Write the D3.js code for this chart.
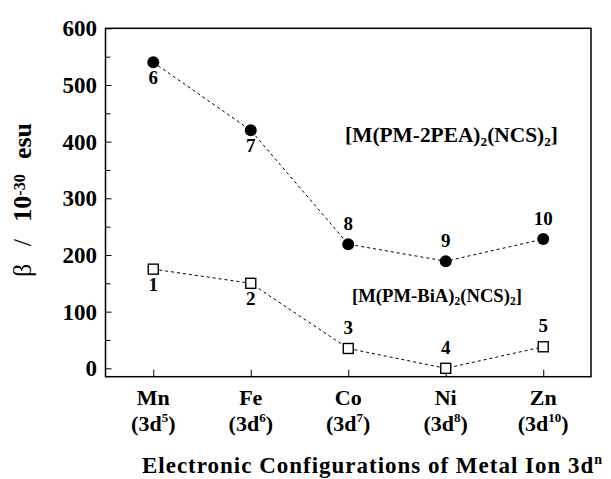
<!DOCTYPE html>
<html><head><meta charset="utf-8">
<script src="https://cdn.jsdelivr.net/npm/d3@7"></script>
<style>body{margin:0;background:#fff}text{font-family:"Liberation Serif","Times New Roman",Times,serif;font-weight:bold;fill:#000}</style>
</head><body><svg id="c" width="611" height="479"></svg>
<script>
const metals = ["Mn","Fe","Co","Ni","Zn"];
const configs = ["5","6","7","8","10"];
const pea = [540, 420, 219, 189, 228];
const bia = [175, 150, 35, 0, 38];
const peaLabels = ["6","7","8","9","10"];
const biaLabels = ["1","2","3","4","5"];
const peaPos = ["below","below","above","above","above"];
const biaPos = ["below","below","above","above","above"];
const yTicks = [0,100,200,300,400,500,600];
const yMinor = [50,150,250,350,450,550];

const svg = d3.select("#c");
const L=105.5, R=591, T=28.3, B=376.7;
const x = d3.scaleLinear().domain([-0.49,4.49]).range([L,R]);
const y = d3.scaleLinear().domain([-14.8,600]).range([B,T]);

function fit(t, w, base){
  const len = t.node().getComputedTextLength();
  t.attr("font-size", base * w / len);
}

svg.append("rect").attr("x",L).attr("y",T).attr("width",R-L).attr("height",B-T)
  .attr("fill","none").attr("stroke","#000").attr("stroke-width",1.5);

const gy = svg.append("g").attr("transform",`translate(${L},0)`).call(d3.axisRight(y).tickValues(yTicks).tickSize(6).tickFormat(""));
gy.select(".domain").remove();
gy.selectAll("line").attr("stroke","#000").attr("stroke-width",1);
const gym = svg.append("g").attr("transform",`translate(${L},0)`).call(d3.axisRight(y).tickValues(yMinor).tickSize(5).tickFormat(""));
gym.select(".domain").remove();
gym.selectAll("line").attr("stroke","#000").attr("stroke-width",1);
yTicks.forEach(v=>{
  svg.append("text").attr("x",97).attr("y",y(v)+8).attr("text-anchor","end")
    .attr("font-size",23).text(v);
});

const gx = svg.append("g").attr("transform",`translate(0,${B})`).call(d3.axisTop(x).tickValues([0,1,2,3,4]).tickSize(7).tickFormat(""));
gx.select(".domain").remove();
gx.selectAll("line").attr("stroke","#000").attr("stroke-width",1);
metals.forEach((m,i)=>{
  svg.append("text").attr("x",x(i)).attr("y",405).attr("text-anchor","middle").attr("font-size",22).text(m);
  const t = svg.append("text").attr("x",x(i)).attr("y",431).attr("text-anchor","middle").attr("font-size",22);
  t.append("tspan").text("(3d");
  t.append("tspan").attr("dy",-9).attr("font-size",13).text(configs[i]);
  t.append("tspan").attr("dy",9).text(")");
});

const xt = svg.append("text").attr("x",372).attr("y",473).attr("text-anchor","middle").attr("font-size",23)
  .attr("textLength",460).attr("lengthAdjust","spacing");
xt.append("tspan").text("Electronic  Configurations  of  Metal  Ion  3d");
xt.append("tspan").attr("dy",-9).attr("font-size",14).text("n");

const yt = svg.append("text").attr("transform","translate(31,200) rotate(-90)").attr("text-anchor","middle")
  .attr("font-size",26);
yt.append("tspan").attr("font-weight","normal").text("β");
const slash = yt.append("tspan").attr("font-weight","normal").text(" / ");
yt.append("tspan").text("10");
yt.append("tspan").attr("dy","-0.4em").attr("font-size","0.62em").text("-30");
const esu = yt.append("tspan").attr("dy","0.25em").text(" esu");
{
  const len = yt.node().getComputedTextLength();
  const extra = Math.max(0, 154 - len);
  slash.style("word-spacing", (extra * 0.36) + "px");
  esu.style("word-spacing", (extra * 0.28) + "px");
}

const line = d3.line().x((d,i)=>x(i)).y(d=>y(d));
[pea,bia].forEach(s=>svg.append("path").datum(s).attr("d",line).attr("fill","none").attr("stroke","#000").attr("stroke-width",1).attr("stroke-dasharray","3,3"));

svg.selectAll(".pc").data(pea).enter().append("circle").attr("cx",(d,i)=>x(i)).attr("cy",d=>y(d)).attr("r",6).attr("fill","#000");
svg.selectAll(".sq").data(bia).enter().append("rect").attr("x",(d,i)=>x(i)-5).attr("y",d=>y(d)-5)
  .attr("width",10).attr("height",10).attr("fill","#fff").attr("stroke","#000").attr("stroke-width",1.4);

function labels(vals, labs, pos){
  vals.forEach((v,i)=>{
    const cy = y(v) + (pos[i]==="below" ? 15 : -21);
    svg.append("text").attr("x",x(i)).attr("y",cy+6.5).attr("text-anchor","middle").attr("font-size",19).text(labs[i]);
  });
}
labels(pea, peaLabels, peaPos);
labels(bia, biaLabels, biaPos);

function formula(xc, yb, mid, w){
  const t = svg.append("text").attr("x",xc).attr("y",yb).attr("text-anchor","middle").attr("font-size",21);
  t.append("tspan").text("[M(PM-"+mid+")");
  t.append("tspan").attr("dy","0.3em").attr("font-size","0.62em").text("2");
  t.append("tspan").attr("dy","-0.186em").text("(NCS)");
  t.append("tspan").attr("dy","0.3em").attr("font-size","0.62em").text("2");
  t.append("tspan").attr("dy","-0.186em").text("]");
  fit(t, w, 21);
}
formula(451.5, 142, "2PEA", 213);
formula(437, 302, "BiA", 170);
</script></body></html>
